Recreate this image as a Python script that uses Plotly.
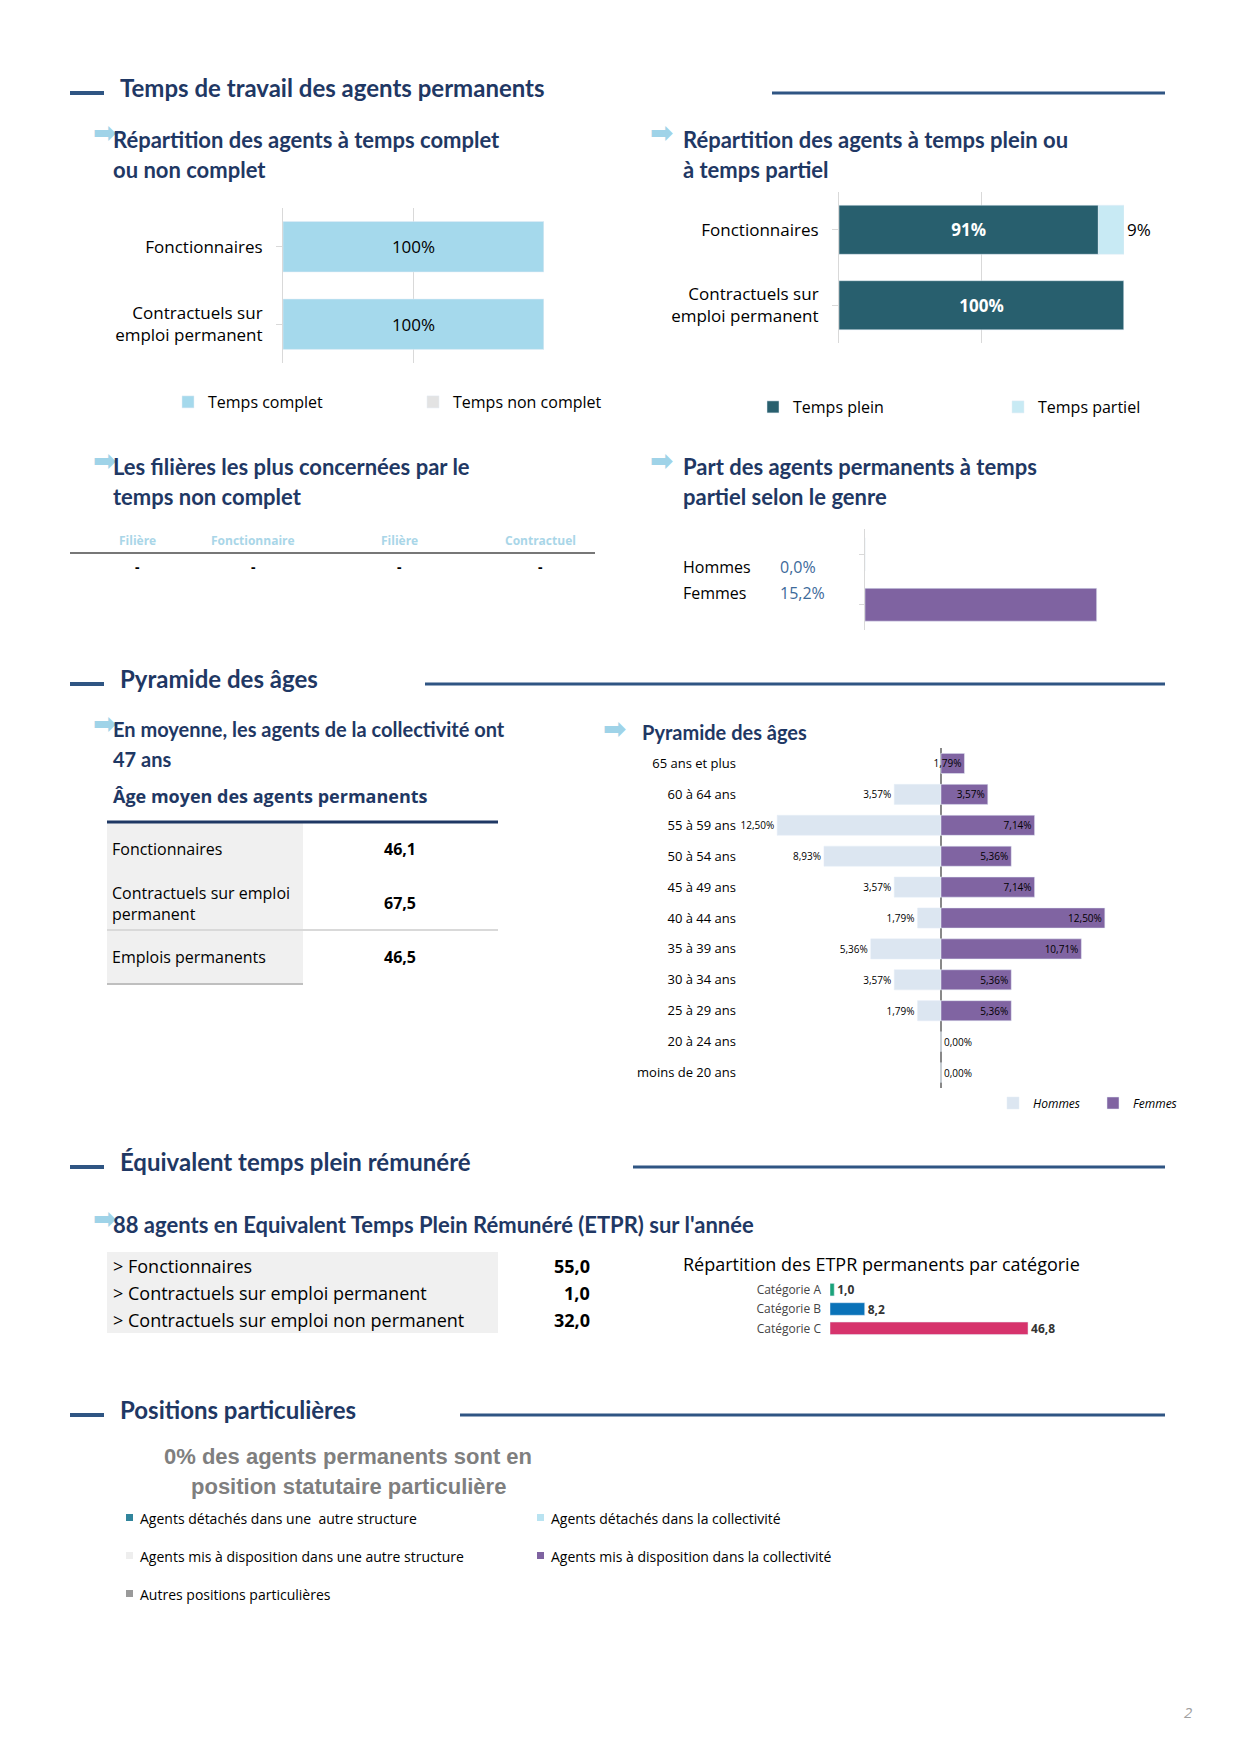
import plotly.graph_objects as go

W, H = 1240, 1754
NAVY = "#1f3864"
TITLE_FONT = "Lato"
BODY_FONT = "Open Sans"

# --- data ---
statuts = ["Fonctionnaires", "Contractuels sur<br>emploi permanent"]
temps_complet = [100, 100]
temps_non_complet = [0, 0]
temps_plein = [91, 100]
temps_partiel = [9, 0]

genres = ["Hommes", "Femmes"]
part_partiel_genre = [0.0, 15.2]

filiere_cols = ["Filière", "Fonctionnaire", "Filière", "Contractuel"]
filiere_vals = ["-", "-", "-", "-"]

age_labels = ["Fonctionnaires", "Contractuels sur emploi<br>permanent", "Emplois permanents"]
age_moyen = ["46,1", "67,5", "46,5"]

tranches = ["moins de 20 ans", "20 à 24 ans", "25 à 29 ans", "30 à 34 ans", "35 à 39 ans",
            "40 à 44 ans", "45 à 49 ans", "50 à 54 ans", "55 à 59 ans", "60 à 64 ans", "65 ans et plus"]
hommes = [0, 0, 1.79, 3.57, 5.36, 1.79, 3.57, 8.93, 12.50, 3.57, 0]
femmes = [0, 0, 5.36, 5.36, 10.71, 12.50, 7.14, 5.36, 7.14, 3.57, 1.79]

etpr_labels = ["> Fonctionnaires", "> Contractuels sur emploi permanent", "> Contractuels sur emploi non permanent"]
etpr_vals = ["55,0", "1,0", "32,0"]

categories = ["Catégorie C", "Catégorie B", "Catégorie A"]
etpr_cat = [46.8, 8.2, 1.0]
cat_colors = ["#d6336c", "#0a72b8", "#1aa37a"]

positions = ["Agents détachés dans une  autre structure", "Agents détachés dans la collectivité",
             "Agents mis à disposition dans une autre structure", "Agents mis à disposition dans la collectivité",
             "Autres positions particulières"]
pos_colors = ["#31859c", "#b9e3f1", "#eeeeee", "#7f63a1", "#9a9a9a"]


def X(p):
    return p / W


def Y(p):
    return 1 - p / H


def fr(v, d=1):
    return f"{v:.{d}f}".replace(".", ",")


fig = go.Figure()
shapes, annots = [], []


def text(x, y, t, size=16, color="black", bold=False, xanchor="left", font=BODY_FONT, italic=False):
    if bold:
        t = f"<b>{t}</b>"
    if italic:
        t = f"<i>{t}</i>"
    annots.append(dict(x=X(x), y=Y(y), xref="paper", yref="paper", text=t, showarrow=False,
                       xanchor=xanchor, yanchor="middle", align=xanchor if xanchor != "center" else "center",
                       font=dict(size=size, color=color, family=font)))


def line(x0, y0, x1, y1, color=NAVY, width=3):
    shapes.append(dict(type="line", xref="paper", yref="paper", x0=X(x0), y0=Y(y0), x1=X(x1), y1=Y(y1),
                       line=dict(color=color, width=width)))


def rect(x0, y0, x1, y1, color):
    shapes.append(dict(type="rect", xref="paper", yref="paper", x0=X(x0), y0=Y(y0), x1=X(x1), y1=Y(y1),
                       fillcolor=color, line=dict(width=0), layer="below"))


def section(y, t, right_start):
    line(62, y + 4, 96, y + 4, "#2f5583", 4)
    text(110, y - 2, t, 24, NAVY, True, font=TITLE_FONT)
    line(right_start, y + 4, 1157, y + 4, "#2f5583", 3)


def arrow(x, y):
    annots.append(dict(x=X(x), y=Y(y), xref="paper", yref="paper", text="<b>➡</b>", showarrow=False,
                       yanchor="middle", font=dict(size=28, color="#9fd3e8", family="DejaVu Sans")))


def subtitle(x, y, lines_, size=22):
    arrow(x - 20, y - 2)
    for i, l in enumerate(lines_):
        text(x, y + 4 + i * 30, l, size, NAVY, True, font=TITLE_FONT)


# --- section 1 ---
section(81, "Temps de travail des agents permanents", 764)
subtitle(103, 127, ["Répartition des agents à temps complet", "ou non complet"])
subtitle(673, 127, ["Répartition des agents à temps plein ou", "à temps partiel"])

fig.add_trace(go.Bar(y=statuts, x=temps_complet, orientation="h", name="Temps complet",
                     marker_color="#a5d9ec", text=[f"{v}%" for v in temps_complet], textposition="inside",
                     insidetextanchor="middle", textfont=dict(size=17, color="black"),
                     xaxis="x", yaxis="y", legend="legend"))
fig.add_trace(go.Bar(y=statuts, x=temps_non_complet, orientation="h", name="Temps non complet",
                     marker_color="#e3e3e3", xaxis="x", yaxis="y", legend="legend"))

fig.add_trace(go.Bar(y=statuts, x=temps_plein, orientation="h", name="Temps plein",
                     marker_color="#285f6e", text=[f"<b>{v}%</b>" for v in temps_plein], textposition="inside",
                     insidetextanchor="middle", textfont=dict(size=17, color="white"),
                     xaxis="x2", yaxis="y2", legend="legend2"))
fig.add_trace(go.Bar(y=statuts, x=temps_partiel, orientation="h", name="Temps partiel",
                     marker_color="#c8eaf4", text=[f"{v}%" if v else "" for v in temps_partiel],
                     textposition="outside", textangle=0, cliponaxis=False,
                     textfont=dict(size=17, color="black"),
                     xaxis="x2", yaxis="y2", legend="legend2"))

# --- filières table ---
subtitle(103, 454, ["Les filières les plus concernées par le", "temps non complet"])
for cx, c, v in zip([129, 245, 392, 532], filiere_cols, filiere_vals):
    text(cx, 532, c, 12, "#a9d6e8", True, xanchor="center")
    text(cx, 558, v, 14, "black", True, xanchor="center")
line(62, 545, 587, 545, "#777777", 2)

# --- genre ---
subtitle(673, 454, ["Part des agents permanents à temps", "partiel selon le genre"])
fig.add_trace(go.Bar(y=genres, x=part_partiel_genre, orientation="h", marker_color="#7f63a1",
                     showlegend=False, xaxis="x3", yaxis="y3"))
for i, (g, v) in enumerate(zip(genres, part_partiel_genre)):
    text(673, 559 + i * 26, g, 16)
    text(770, 559 + i * 26, fr(v) + "%", 16, "#3d6a9a")

# --- section 2 ---
section(672, "Pyramide des âges", 417)
subtitle(103, 717, ["En moyenne, les agents de la collectivité ont", "47 ans"], 20)
text(103, 788, "Âge moyen des agents permanents", 18, NAVY, True, font=BODY_FONT)
line(99, 814, 490, 814, NAVY, 3)
rect(99, 815, 295, 976, "#f0f0f0")
row_y = [841, 895, 949]
for yy, l, v in zip(row_y, age_labels, age_moyen):
    text(102, yy, l, 16)
    text(392, yy, v, 16, bold=True, xanchor="center")
line(99, 922, 490, 922, "#d9d9d9", 2)
line(99, 976, 295, 976, "#bfbfbf", 2)

arrow(606, 720)
text(632, 724, "Pyramide des âges", 20, NAVY, True, font=TITLE_FONT)
fig.add_trace(go.Bar(y=tranches, x=[-v for v in hommes], orientation="h", name="Hommes",
                     marker_color="#dce6f1", text=[fr(v, 2) + "%" if v else "" for v in hommes],
                     textposition="outside", textfont=dict(size=10, color="black"), cliponaxis=False,
                     xaxis="x4", yaxis="y4", legend="legend3"))
fig.add_trace(go.Bar(y=tranches, x=femmes, orientation="h", name="Femmes",
                     marker_color="#8064a2", text=[fr(v, 2) + "%" for v in femmes],
                     textposition=["outside" if v == 0 else "inside" for v in femmes],
                     insidetextanchor="end", textfont=dict(size=10, color="black"), cliponaxis=False,
                     xaxis="x4", yaxis="y4", legend="legend3"))

# --- section 3 ---
section(1155, "Équivalent temps plein rémunéré", 625)
subtitle(103, 1212, ["88 agents en Equivalent Temps Plein Rémunéré (ETPR) sur l'année"])
rect(99, 1244, 490, 1325, "#f0f0f0")
for i, (l, v) in enumerate(zip(etpr_labels, etpr_vals)):
    text(103, 1258 + i * 27, l, 18)
    text(584, 1258 + i * 27, v, 18, bold=True, xanchor="right")
text(673, 1256, "Répartition des ETPR permanents par catégorie", 18)
fig.add_trace(go.Bar(y=categories, x=etpr_cat, orientation="h", marker_color=cat_colors,
                     text=[f"<b>{fr(v)}</b>" for v in etpr_cat], textposition="outside",
                     textfont=dict(size=12, color="#333"), cliponaxis=False, showlegend=False,
                     xaxis="x5", yaxis="y5"))

# --- section 4 ---
section(1403, "Positions particulières", 452)
text(340, 1448, "0% des agents permanents sont en", 22, "#7f7f7f", True, "center", "Liberation Sans")
text(340, 1478, "position statutaire particulière", 22, "#7f7f7f", True, "center", "Liberation Sans")
for i, (p, c) in enumerate(zip(positions, pos_colors)):
    xx = 122 if i % 2 == 0 else 533
    yy = 1510 + (i // 2) * 38
    rect(xx - 4, yy - 4, xx + 3, yy + 3, c)
    text(xx + 8, yy, p, 14)

text(1180, 1704, "2", 15, "#a0a0a0", italic=True, xanchor="center")

axis_common = dict(showline=False, fixedrange=True)
fig.update_layout(
    width=W, height=H, margin=dict(l=0, r=0, t=0, b=0),
    paper_bgcolor="white", plot_bgcolor="white", barmode="relative",
    font=dict(family=BODY_FONT, color="black"),
    uniformtext=dict(minsize=10, mode="show"),
    shapes=shapes, annotations=annots,
    xaxis=dict(domain=[X(275), X(536)], range=[0, 100], dtick=50, showticklabels=False,
               gridcolor="#d9d9d9", zeroline=False, **axis_common),
    yaxis=dict(domain=[Y(355), Y(200)], anchor="x", autorange="reversed", showline=True,
               linecolor="#d9d9d9", ticks="outside", tickcolor="#d9d9d9", ticklen=6,
               tickfont=dict(size=17), ticklabelstandoff=10, zeroline=False),
    xaxis2=dict(domain=[X(831), X(1116)], range=[0, 100], dtick=50, showticklabels=False,
                gridcolor="#d9d9d9", anchor="y2", zeroline=False, **axis_common),
    yaxis2=dict(domain=[Y(335), Y(184)], anchor="x2", autorange="reversed", showline=True,
                linecolor="#d9d9d9", ticks="outside", tickcolor="#d9d9d9", ticklen=6,
                tickfont=dict(size=17), ticklabelstandoff=10, zeroline=False),
    xaxis3=dict(domain=[X(857), X(1110)], range=[0, 16.6], showgrid=False, showticklabels=False,
                anchor="y3", zeroline=False, **axis_common),
    yaxis3=dict(domain=[Y(622), Y(521)], anchor="x3", autorange="reversed", showline=True,
                linecolor="#d9d9d9", ticks="outside", tickcolor="#d9d9d9", showticklabels=False,
                zeroline=False),
    xaxis4=dict(domain=[X(760), X(1106)], range=[-13.2, 13.2], showgrid=False, showticklabels=False,
                anchor="y4", zeroline=True, zerolinecolor="#888", zerolinewidth=1.5, **axis_common),
    yaxis4=dict(domain=[Y(1080), Y(740)], anchor="free", position=X(728), side="left",
                showline=False, ticks="", tickfont=dict(size=13), zeroline=False),
    xaxis5=dict(domain=[X(822), X(1100)], range=[0, 65.7], showgrid=False, showticklabels=False,
                anchor="y5", zeroline=False, **axis_common),
    yaxis5=dict(domain=[Y(1330), Y(1272)], anchor="x5", showline=False, tickfont=dict(size=12, color="#444"),
                ticklabelstandoff=8, zeroline=False),
    bargap=0.35,
    legend=dict(orientation="h", x=X(160), y=Y(394), yanchor="middle", xanchor="left",
                font=dict(size=16), itemwidth=30, entrywidth=200, traceorder="normal"),
    legend2=dict(orientation="h", x=X(745), y=Y(399), yanchor="middle", xanchor="left",
                 font=dict(size=16), entrywidth=200),
    legend3=dict(orientation="h", x=X(985), y=Y(1095), yanchor="middle", xanchor="left",
                 font=dict(size=12, style="italic"), entrywidth=55, itemwidth=30),
)

fig.write_html("out.html")
